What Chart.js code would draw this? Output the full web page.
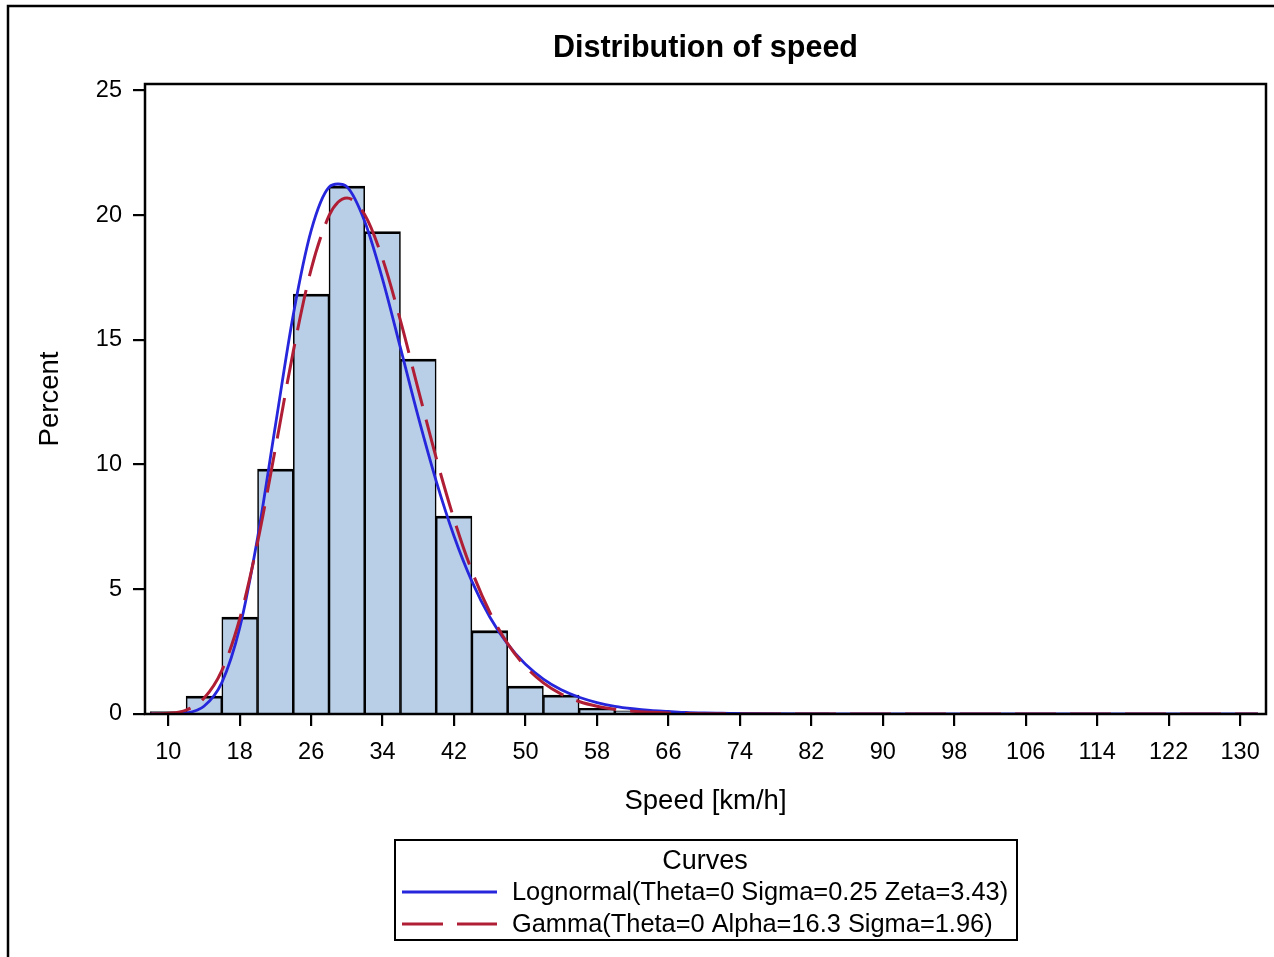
<!DOCTYPE html>
<html><head><meta charset="utf-8">
<script src="https://cdn.jsdelivr.net/npm/chart.js@4"></script>
<style>html,body{margin:0;padding:0;background:#fff;}#wrap{width:1274px;height:957px;position:relative;overflow:hidden}</style>
</head><body><div id="wrap"><canvas id="c" width="1274" height="957"></canvas></div>
<script>
const chartTitle = 'Distribution of speed';
const xTitle = 'Speed [km/h]';
const yTitle = 'Percent';
const legendTitle = 'Curves';
const lognormalLabel = 'Lognormal(Theta=0 Sigma=0.25 Zeta=3.43)';
const gammaLabel = 'Gamma(Theta=0 Alpha=16.3 Sigma=1.96)';

const binCenters = [10,14,18,22,26,30,34,38,42,46,50,54,58,62,66,70,74,78,82,86,90,94,98,102,106,110,114,118,122,126,130];
const binPercent = [0.10,0.72,3.89,9.82,16.84,21.17,19.34,14.23,7.94,3.34,1.12,0.76,0.23,0.13,0.10,0.03,0.02,0.01,0.01,0,0,0,0,0,0,0,0,0,0,0,0];

const curveX = [8,10,12,14,16,18,20,22,24,26,28,29,30,32,34,36,38,40,42,44,46,48,50,52,54,56,58,60,62,64,66,68,70,72,76,80,90,100,110,120,132];
const lognormalY = [0,0.002,0.04,0.31,1.26,3.45,7.06,11.57,16.01,19.38,21.12,21.25,21.14,19.75,17.43,14.68,11.90,9.34,7.13,5.32,3.89,2.80,1.99,1.40,0.97,0.67,0.46,0.31,0.21,0.14,0.10,0.06,0.04,0.03,0.013,0.005,0,0,0,0,0];
const gammaY = [0.003,0.028,0.16,0.63,1.74,3.81,6.88,10.65,14.54,17.83,19.98,20.52,20.69,20.02,18.25,15.77,13.00,10.27,7.81,5.73,4.08,2.82,1.90,1.25,0.80,0.50,0.31,0.19,0.11,0.066,0.038,0.022,0.012,0.007,0.002,0.001,0,0,0,0,0];

const xTicks = [10,18,26,34,42,50,58,66,74,82,90,98,106,114,122,130];
const yTicks = [0,5,10,15,20,25];

const FONT = "'Liberation Sans', Arial, Helvetica, sans-serif";
const BLUE = '#2626DC';
const RED = '#B01E35';

const framePlugin = {
  id: 'frame',
  afterDraw(chart) {
    const ctx = chart.ctx;
    const a = chart.chartArea;
    ctx.save();
    ctx.strokeStyle = '#000';
    ctx.lineWidth = 2.5;
    ctx.strokeRect(8, 6, 1400, 1100);
    ctx.lineWidth = 2.5;
    ctx.strokeRect(a.left, a.top, a.right - a.left, a.bottom - a.top);
    const bx = 395, by = 840, bw = 622, bh = 100;
    ctx.lineWidth = 2;
    ctx.strokeRect(bx, by, bw, bh);
    ctx.fillStyle = '#000';
    ctx.textBaseline = 'middle';
    ctx.textAlign = 'center';
    ctx.font = '27px ' + FONT;
    ctx.fillText(legendTitle, 705, 862);
    const ds = chart.data.datasets;
    const entries = [ds[1], ds[2]];
    const ys = [892, 924];
    entries.forEach((d, i) => {
      ctx.beginPath();
      ctx.strokeStyle = d.borderColor;
      ctx.lineWidth = d.borderWidth;
      ctx.setLineDash(d.borderDash || []);
      ctx.moveTo(402, ys[i]);
      ctx.lineTo(497, ys[i]);
      ctx.stroke();
      ctx.setLineDash([]);
      ctx.textAlign = 'left';
      ctx.font = '25.4px ' + FONT;
      ctx.fillStyle = '#000';
      ctx.fillText(d.label, 512, ys[i] + 1);
    });
    ctx.restore();
  }
};

new Chart(document.getElementById('c'), {
  type: 'bar',
  data: {
    datasets: [
      {
        type: 'bar',
        label: 'Percent',
        data: binCenters.map((x, i) => ({x: x, y: binPercent[i]})),
        backgroundColor: '#B9CFE7',
        borderColor: '#000',
        borderWidth: {top: 2.8, left: 1.6, right: 1.6, bottom: 0},
        borderSkipped: false,
        barPercentage: 1,
        categoryPercentage: 1,
        order: 3
      },
      {
        type: 'line',
        label: lognormalLabel,
        data: curveX.map((x, i) => ({x: x, y: lognormalY[i]})),
        borderColor: BLUE,
        borderWidth: 2.8,
        pointRadius: 0,
        fill: false,
        cubicInterpolationMode: 'monotone',
        order: 2
      },
      {
        type: 'line',
        label: gammaLabel,
        data: curveX.map((x, i) => ({x: x, y: gammaY[i]})),
        borderColor: RED,
        borderWidth: 3,
        borderDash: [41, 14],
        pointRadius: 0,
        fill: false,
        cubicInterpolationMode: 'monotone',
        order: 1
      }
    ]
  },
  options: {
    responsive: false,
    animation: false,
    devicePixelRatio: 1,
    layout: {padding: {left: 0, right: 8, top: 0, bottom: 0}},
    plugins: {
      legend: {display: false},
      tooltip: {enabled: false},
      title: {
        display: true,
        text: chartTitle,
        fullSize: false,
        color: '#000',
        font: {family: FONT, size: 30.5, weight: 'bold'},
        padding: {top: 30, bottom: 17.4}
      }
    },
    scales: {
      x: {
        type: 'linear',
        min: 7.4,
        max: 132.9,
        offset: false,
        afterBuildTicks: s => { s.ticks = xTicks.map(v => ({value: v})); },
        afterFit: s => { s.height = 243; },
        border: {display: false},
        grid: {display: true, drawOnChartArea: false, drawTicks: true, tickLength: 12, lineWidth: 2.2, color: '#000', offset: false},
        ticks: {color: '#000', font: {family: FONT, size: 23.5}, padding: 12.5, maxRotation: 0, autoSkip: false},
        title: {display: true, text: xTitle, color: '#000', font: {family: FONT, size: 27.5}, padding: {top: 0, bottom: 139}}
      },
      y: {
        type: 'linear',
        min: 0,
        max: 25.26,
        afterBuildTicks: s => { s.ticks = yTicks.map(v => ({value: v})); },
        afterFit: s => { s.width = 145; },
        border: {display: false},
        grid: {display: true, drawOnChartArea: false, drawTicks: true, tickLength: 12, lineWidth: 2.2, color: '#000'},
        ticks: {color: '#000', font: {family: FONT, size: 23.5}, padding: 11},
        title: {display: true, text: yTitle, color: '#000', font: {family: FONT, size: 27.5}, padding: {top: 34, bottom: 0}}
      }
    }
  },
  plugins: [framePlugin]
});
</script></body></html>
